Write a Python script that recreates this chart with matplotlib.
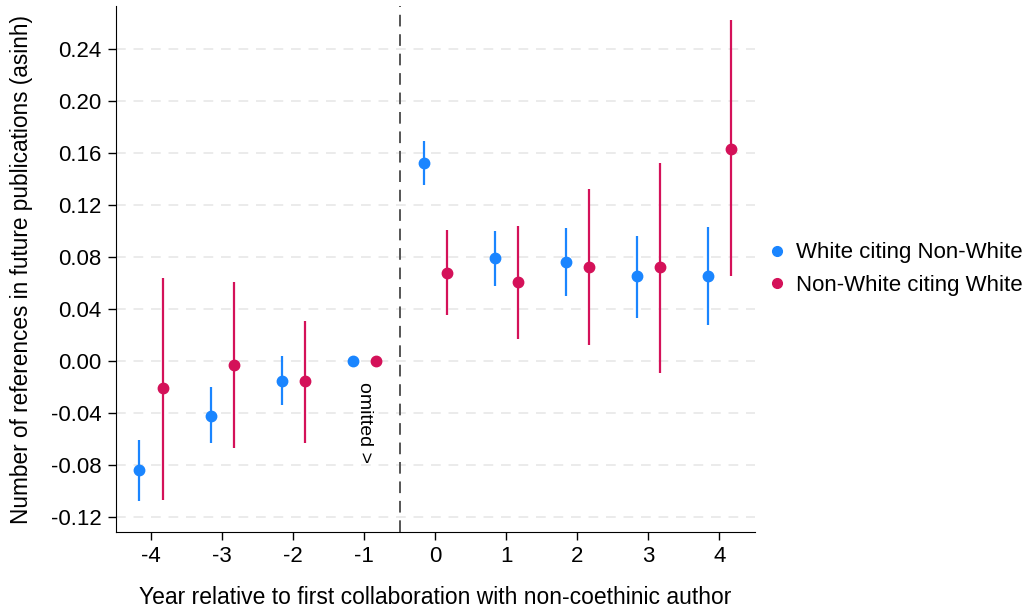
import matplotlib.pyplot as plt
import numpy as np

plt.rcParams['font.family'] = ['Liberation Sans', 'DejaVu Sans']

years = [-4, -3, -2, -1, 0, 1, 2, 3, 4]

white_est = [-0.084, -0.042, -0.015, 0.0, 0.152, 0.079, 0.076, 0.065, 0.065]
white_lo = [-0.108, -0.063, -0.034, 0.0, 0.135, 0.058, 0.050, 0.033, 0.028]
white_hi = [-0.061, -0.020, 0.004, 0.0, 0.169, 0.100, 0.102, 0.096, 0.103]

nonwhite_est = [-0.021, -0.003, -0.015, 0.0, 0.068, 0.061, 0.072, 0.072, 0.163]
nonwhite_lo = [-0.107, -0.067, -0.063, 0.0, 0.035, 0.017, 0.012, -0.009, 0.065]
nonwhite_hi = [0.064, 0.061, 0.031, 0.0, 0.101, 0.104, 0.132, 0.152, 0.262]

yticks = [-0.12, -0.08, -0.04, 0.00, 0.04, 0.08, 0.12, 0.16, 0.20, 0.24]

blue = '#1a85ff'
red = '#d41159'
offset = 0.165

fig = plt.figure(figsize=(10.31, 6.12), dpi=100)
ax = fig.add_axes([0.1122, 0.1307, 0.6201, 0.8595])

x = np.array(years, dtype=float)
series = [
    (x - offset, white_est, white_lo, white_hi, blue, 'White citing Non-White'),
    (x + offset, nonwhite_est, nonwhite_lo, nonwhite_hi, red, 'Non-White citing White'),
]
for xs, est, lo, hi, col, lab in series:
    est = np.array(est)
    yerr = [est - np.array(lo), np.array(hi) - est]
    ax.errorbar(xs, est, yerr=yerr, fmt='o', color=col, ecolor=col,
                elinewidth=1.6, capsize=0, markersize=7.5, label=lab, zorder=3)

ax.axvline(-0.5, color='#555555', linestyle=(0, (6, 4)), linewidth=1.4, zorder=2)
ax.text(-1, -0.016, 'omitted >', rotation=270, ha='center', va='top', fontsize=14)

ax.set_xlim(-4.5, 4.5)
ax.set_ylim(-0.1315, 0.273)
ax.set_xticks(years)
ax.set_xticklabels([str(v) for v in years])
ax.set_yticks(yticks)
ax.set_yticklabels(['%.2f' % v for v in yticks])
ax.tick_params(labelsize=16, length=6, width=1, pad=4)

for yv in yticks:
    ax.axhline(yv, color='#ebebeb', linestyle=(0, (5, 4)), linewidth=1.4, zorder=0)

ax.spines['top'].set_visible(False)
ax.spines['right'].set_visible(False)

ax.set_xlabel('Year relative to first collaboration with non-coethinic author',
              fontsize=16.5, labelpad=14)
ax.set_ylabel('Number of references in future publications (asinh)', fontsize=16.3)
ax.yaxis.set_label_coords(-0.13, 0.5)

handles, labels = ax.get_legend_handles_labels()
handles = [plt.Line2D([], [], marker='o', linestyle='', color=c, markersize=7)
           for c in (blue, red)]
ax.legend(handles, labels, loc='center left', bbox_to_anchor=(1.003, 0.5),
          borderaxespad=0, frameon=False, fontsize=16, handlelength=1.0,
          handletextpad=0.35, labelspacing=0.5)

fig.savefig('out.png', dpi=100)
